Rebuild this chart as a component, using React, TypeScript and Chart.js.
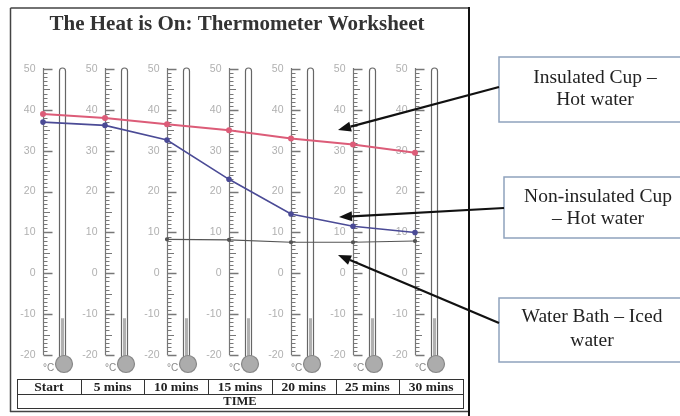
import React, { useEffect, useRef } from "react";
import { Chart, registerables } from "chart.js";

Chart.register(...registerables);

const TITLE = "The Heat is On: Thermometer Worksheet";
const CATEGORIES = ["Start", "5 mins", "10 mins", "15 mins", "20 mins", "25 mins", "30 mins"];
const AXIS_TITLE = "TIME";
const INSULATED = [39, 38, 36.5, 35, 33, 31.5, 29.5];
const NON_INSULATED = [37, 36.2, 32.6, 23, 14.5, 11.5, 10];
const WATER_BATH = [null, null, 8.3, 8.2, 7.6, 7.6, 7.9];
const TICK_LABELS = [50, 40, 30, 20, 10, 0, -10, -20];
const Y_MIN = -20;
const Y_MAX = 50;
const MERCURY_LEVEL = -11;
const CALLOUTS = [
  { lines: ["Insulated Cup \u2013", "Hot water"], box: [499, 57, 200, 65], from: [499, 87], to: [338, 130], text: [595, 78, 100] },
  { lines: ["Non-insulated Cup", "\u2013 Hot water"], box: [504, 177, 200, 61], from: [504, 208], to: [339, 217], text: [598, 197, 219] },
  { lines: ["Water Bath \u2013 Iced", "water"], box: [499, 298, 200, 64], from: [499, 323], to: [338, 255], text: [592, 317, 341] },
];

const SERIF = '"Liberation Serif", "Times New Roman", serif';
const SANS = '"Liberation Sans", Arial, sans-serif';

const worksheetPlugin = {
  id: "worksheet",
  beforeDatasetsDraw(chart: any) {
    const ctx = chart.ctx as CanvasRenderingContext2D;
    const xs = chart.scales.x;
    const ys = chart.scales.y;
    ctx.save();
    // frame
    ctx.strokeStyle = "#444";
    ctx.lineWidth = 1.5;
    ctx.beginPath();
    ctx.moveTo(10.5, 8);
    ctx.lineTo(469, 8);
    ctx.moveTo(10.5, 8);
    ctx.lineTo(10.5, 412);
    ctx.moveTo(10, 411.5);
    ctx.lineTo(469, 411.5);
    ctx.stroke();
    ctx.strokeStyle = "#111";
    ctx.lineWidth = 2;
    ctx.beginPath();
    ctx.moveTo(469, 7);
    ctx.lineTo(469, 416);
    ctx.stroke();

    // title
    ctx.fillStyle = "#333";
    ctx.font = `bold 21px ${SERIF}`;
    ctx.textAlign = "center";
    ctx.textBaseline = "alphabetic";
    ctx.fillText(TITLE, 237, 30);

    // thermometers
    const yTop = ys.getPixelForValue(Y_MAX);
    const yBot = ys.getPixelForValue(Y_MIN);
    CATEGORIES.forEach((_, i) => {
      const x = Math.round(xs.getPixelForValue(i)) + 0.5;
      ctx.strokeStyle = "#777";
      ctx.lineWidth = 1.2;
      ctx.beginPath();
      ctx.moveTo(x, yTop - 1);
      ctx.lineTo(x, yBot);
      ctx.stroke();
      for (let v = Y_MIN; v <= Y_MAX; v++) {
        const y = Math.round(ys.getPixelForValue(v)) + 0.5;
        const len = v % 10 === 0 ? 9 : v % 5 === 0 ? 6.5 : 4;
        ctx.lineWidth = v % 10 === 0 ? 1.5 : 1;
        ctx.beginPath();
        ctx.moveTo(x, y);
        ctx.lineTo(x + len, y);
        ctx.stroke();
      }
      ctx.fillStyle = "#b0b0b0";
      ctx.font = `10.5px ${SANS}`;
      ctx.textAlign = "right";
      ctx.textBaseline = "middle";
      TICK_LABELS.forEach((t) => {
        ctx.fillText(String(t), x - 8, ys.getPixelForValue(t));
      });
      // tube
      const tx = x + 16;
      const tw = 6;
      const bulbCx = tx + tw / 2 + 1.5;
      const bulbCy = yBot + 9;
      ctx.strokeStyle = "#666";
      ctx.lineWidth = 1.2;
      ctx.beginPath();
      ctx.moveTo(tx, bulbCy - 7);
      ctx.lineTo(tx, yTop + 2);
      ctx.arc(tx + tw / 2, yTop + 2, tw / 2, Math.PI, 0);
      ctx.lineTo(tx + tw, bulbCy - 7);
      ctx.stroke();
      // mercury
      const my = ys.getPixelForValue(MERCURY_LEVEL);
      ctx.fillStyle = "#b0b0b0";
      ctx.fillRect(tx + 1.5, my, tw - 3, bulbCy - my);
      // bulb
      ctx.beginPath();
      ctx.arc(bulbCx, bulbCy, 8.5, 0, Math.PI * 2);
      ctx.fillStyle = "#acacac";
      ctx.fill();
      ctx.strokeStyle = "#888";
      ctx.stroke();
      ctx.fillStyle = "#888";
      ctx.font = `10px ${SANS}`;
      ctx.textAlign = "center";
      ctx.fillText("\u00b0C", x + 5, bulbCy + 4);
    });

    // table
    const tl = 17;
    const tr = 463;
    const t0 = 379;
    const t1 = 394;
    const t2 = 408;
    const cw = (tr - tl) / CATEGORIES.length;
    ctx.strokeStyle = "#333";
    ctx.lineWidth = 1;
    ctx.strokeRect(tl + 0.5, t0 + 0.5, tr - tl, t2 - t0);
    ctx.beginPath();
    ctx.moveTo(tl, t1 + 0.5);
    ctx.lineTo(tr, t1 + 0.5);
    for (let i = 1; i < CATEGORIES.length; i++) {
      const cx = Math.round(tl + cw * i) + 0.5;
      ctx.moveTo(cx, t0);
      ctx.lineTo(cx, t1);
    }
    ctx.stroke();
    ctx.fillStyle = "#222";
    ctx.font = `bold 13.5px ${SERIF}`;
    ctx.textAlign = "center";
    ctx.textBaseline = "middle";
    CATEGORIES.forEach((c, i) => {
      ctx.fillText(c, tl + cw * (i + 0.5), (t0 + t1) / 2 + 1);
    });
    ctx.font = `bold 12.5px ${SERIF}`;
    ctx.fillText(AXIS_TITLE, (tl + tr) / 2, (t1 + t2) / 2 + 1);

    // callout boxes
    CALLOUTS.forEach((c) => {
      const [bx, by, bw, bh] = c.box;
      ctx.fillStyle = "#fff";
      ctx.fillRect(bx, by, bw, bh);
      ctx.strokeStyle = "#8fa2bd";
      ctx.lineWidth = 1.5;
      ctx.strokeRect(bx, by, bw, bh);
      ctx.fillStyle = "#222";
      ctx.font = `19.5px ${SERIF}`;
      ctx.textAlign = "center";
      ctx.textBaseline = "middle";
      ctx.fillText(c.lines[0], c.text[0], c.text[1]);
      ctx.fillText(c.lines[1], c.text[0], c.text[2]);
    });
    ctx.restore();
  },
  afterDatasetsDraw(chart: any) {
    const ctx = chart.ctx as CanvasRenderingContext2D;
    ctx.save();
    CALLOUTS.forEach((c) => {
      const [x1, y1] = c.from;
      const [x2, y2] = c.to;
      const ang = Math.atan2(y2 - y1, x2 - x1);
      const head = 13;
      const hw = 5;
      const bx = x2 - head * Math.cos(ang);
      const by = y2 - head * Math.sin(ang);
      ctx.strokeStyle = "#111";
      ctx.lineWidth = 2.2;
      ctx.beginPath();
      ctx.moveTo(x1, y1);
      ctx.lineTo(bx, by);
      ctx.stroke();
      ctx.fillStyle = "#111";
      ctx.beginPath();
      ctx.moveTo(x2, y2);
      ctx.lineTo(bx + hw * Math.sin(ang), by - hw * Math.cos(ang));
      ctx.lineTo(bx - hw * Math.sin(ang), by + hw * Math.cos(ang));
      ctx.closePath();
      ctx.fill();
    });
    ctx.restore();
  },
};

export default function App() {
  const ref = useRef<HTMLCanvasElement>(null);
  useEffect(() => {
    if (!ref.current) return;
    const chart = new Chart(ref.current, {
      type: "line",
      data: {
        labels: CATEGORIES,
        datasets: [
          {
            label: "Insulated Cup \u2013 Hot water",
            data: INSULATED,
            borderColor: "#dc5c78",
            backgroundColor: "#dc5c78",
            borderWidth: 2,
            pointRadius: 2,
            tension: 0,
          },
          {
            label: "Non-insulated Cup \u2013 Hot water",
            data: NON_INSULATED,
            borderColor: "#4b4b96",
            backgroundColor: "#4b4b96",
            borderWidth: 1.6,
            pointRadius: 2,
            tension: 0,
          },
          {
            label: "Water Bath \u2013 Iced water",
            data: WATER_BATH,
            borderColor: "#555",
            backgroundColor: "#555",
            borderWidth: 1.2,
            pointRadius: 1.5,
            tension: 0,
          },
        ],
      },
      options: {
        responsive: false,
        animation: false,
        layout: { padding: { left: 43, right: 265, top: 69, bottom: 61 } },
        scales: {
          x: { type: "category", display: false, offset: false },
          y: { type: "linear", min: Y_MIN, max: Y_MAX, display: false },
        },
        plugins: { legend: { display: false }, tooltip: { enabled: false } },
      },
      plugins: [worksheetPlugin],
    });
    return () => chart.destroy();
  }, []);
  return (
    <div style={{ position: "fixed", left: 0, top: 0, width: 680, height: 416, background: "#fff" }}>
      <canvas ref={ref} width={680} height={416} style={{ display: "block" }} />
    </div>
  );
}
